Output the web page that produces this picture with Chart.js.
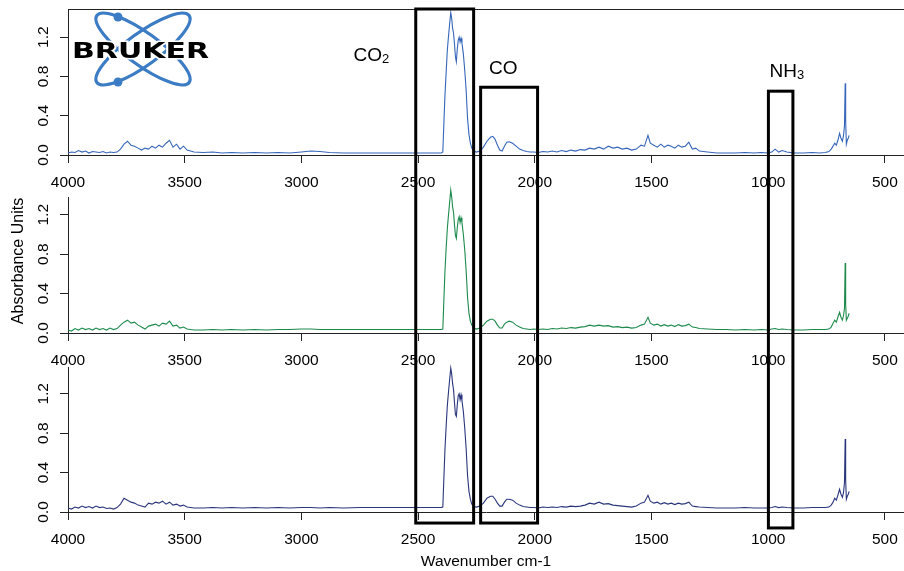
<!DOCTYPE html>
<html>
<head>
<meta charset="utf-8">
<title>FTIR spectra</title>
<script src="https://cdn.jsdelivr.net/npm/chart.js@4.4.0/dist/chart.umd.min.js"></script>
<style>
  html, body { margin: 0; padding: 0; background: #fff; }
  #wrap { position: relative; width: 904px; height: 571px; }
  #wrap canvas { position: absolute; left: 0; top: 0; }
</style>
</head>
<body>
<div id="wrap">
  <canvas id="panel1" width="904" height="571"></canvas>
  <canvas id="panel2" width="904" height="571"></canvas>
  <canvas id="panel3" width="904" height="571"></canvas>
</div>
<script>
// Wavenumber (cm-1), shared by the three spectra
const wavenumbers = [
  4000, 3985, 3970, 3955, 3940, 3925, 3910, 3895, 3880, 3865,
  3850, 3835, 3820, 3805, 3790, 3775, 3760, 3745, 3730, 3715,
  3700, 3685, 3670, 3655, 3640, 3625, 3610, 3595, 3580, 3565,
  3550, 3535, 3520, 3505, 3490, 3475, 3460,
  3420, 3380, 3340, 3300, 3250, 3200, 3150, 3100, 3050, 3000,
  2960, 2920, 2880, 2820, 2750, 2680, 2600, 2520, 2450, 2400,
  2394, 2390, 2385, 2380, 2375, 2370, 2365, 2360, 2356, 2352,
  2348, 2344, 2340, 2336, 2332, 2328, 2324, 2320, 2316, 2312,
  2306, 2300, 2294, 2288, 2282, 2276, 2270, 2262,
  2250, 2235, 2220, 2205, 2190, 2180, 2170, 2160, 2150, 2140,
  2130, 2120, 2110, 2095, 2080, 2065, 2050, 2035, 2020,
  2005, 1985, 1965, 1945, 1925, 1905, 1885, 1865, 1845, 1825,
  1805, 1785, 1765, 1745, 1725, 1705, 1685, 1665, 1645, 1625,
  1605, 1585, 1565, 1545, 1530, 1515, 1505, 1490, 1475, 1460,
  1445, 1430, 1415, 1400, 1385, 1370, 1355, 1340, 1325, 1310,
  1295,
  1260, 1220, 1180, 1140, 1100, 1060, 1030, 1000, 985, 970,
  955, 940, 920, 890, 850, 810, 780, 755, 740,
  730, 722, 715, 708, 700, 694, 688, 682, 677, 673,
  670, 668, 665, 661, 657, 653
];

// Absorbance, top spectrum (blue)
const absorbanceTop = [
  0.02, 0.03, 0.025, 0.045, 0.03, 0.04, 0.02, 0.035, 0.03, 0.025,
  0.035, 0.02, 0.03, 0.025, 0.03, 0.06, 0.11, 0.14, 0.1, 0.09,
  0.07, 0.05, 0.07, 0.06, 0.09, 0.07, 0.1, 0.08, 0.12, 0.15,
  0.08, 0.11, 0.06, 0.09, 0.05, 0.04, 0.03,
  0.025, 0.03, 0.02, 0.025, 0.02, 0.025, 0.02, 0.025, 0.02, 0.03,
  0.04, 0.035, 0.025, 0.02, 0.02, 0.02, 0.02, 0.02, 0.02, 0.02,
  0.03, 0.29, 0.6, 0.83, 1.06, 1.2, 1.33, 1.45, 1.39, 1.29,
  1.24, 1.13, 1.0, 0.95, 1.08, 1.17, 1.2, 1.15, 1.19, 1.14,
  1.03, 0.86, 0.66, 0.37, 0.21, 0.12, 0.07, 0.04,
  0.03, 0.04, 0.08, 0.14, 0.18, 0.19, 0.16, 0.1, 0.05, 0.04,
  0.09, 0.13, 0.135, 0.12, 0.09, 0.06, 0.045, 0.035, 0.03,
  0.03, 0.025, 0.035, 0.03, 0.04, 0.03, 0.045, 0.035, 0.05, 0.04,
  0.055, 0.05, 0.07, 0.06, 0.08, 0.06, 0.09, 0.07, 0.08, 0.06,
  0.07, 0.05, 0.06, 0.1, 0.09, 0.2, 0.12, 0.1, 0.08, 0.11,
  0.08, 0.1, 0.09, 0.07, 0.1, 0.08, 0.09, 0.13, 0.06, 0.07,
  0.04,
  0.03, 0.02, 0.02, 0.02, 0.025, 0.02, 0.025, 0.02, 0.03, 0.06,
  0.03, 0.045, 0.03, 0.02, 0.02, 0.025, 0.02, 0.025, 0.035,
  0.06, 0.09, 0.12, 0.1, 0.16, 0.22, 0.17, 0.14, 0.2, 0.3,
  0.73, 0.35, 0.11, 0.15, 0.17, 0.2
];

// Absorbance, middle spectrum (green)
const absorbanceMiddle = [
  0.03, 0.02, 0.045, 0.03, 0.05, 0.035, 0.045, 0.03, 0.05, 0.035,
  0.045, 0.03, 0.05, 0.035, 0.045, 0.08, 0.11, 0.13, 0.1, 0.11,
  0.08, 0.06, 0.04, 0.07, 0.08, 0.09, 0.07, 0.1, 0.09, 0.12,
  0.07, 0.08, 0.05, 0.06, 0.04, 0.035, 0.03,
  0.03, 0.035, 0.03, 0.035, 0.03, 0.035, 0.03, 0.035, 0.035, 0.04,
  0.04, 0.035, 0.035, 0.035, 0.035, 0.035, 0.035, 0.035, 0.035, 0.035,
  0.04, 0.3, 0.62, 0.85, 1.05, 1.19, 1.32, 1.45, 1.38, 1.28,
  1.22, 1.1, 0.99, 0.96, 1.07, 1.15, 1.18, 1.12, 1.17, 1.12,
  1.0, 0.84, 0.63, 0.36, 0.2, 0.12, 0.08, 0.05,
  0.04, 0.05, 0.08, 0.12, 0.14, 0.14, 0.12, 0.08, 0.05, 0.05,
  0.09, 0.11, 0.12, 0.11, 0.08, 0.06, 0.045, 0.04, 0.035,
  0.04, 0.035, 0.04, 0.035, 0.045, 0.04, 0.05, 0.045, 0.055, 0.05,
  0.06, 0.065, 0.08, 0.07, 0.08, 0.07, 0.075, 0.06, 0.065, 0.055,
  0.06, 0.05, 0.055, 0.08, 0.09, 0.16, 0.1, 0.08, 0.09, 0.07,
  0.085, 0.07, 0.08, 0.065, 0.085, 0.07, 0.075, 0.09, 0.06, 0.055,
  0.045,
  0.04, 0.035, 0.035, 0.03, 0.035, 0.03, 0.035, 0.03, 0.04, 0.045,
  0.035, 0.04, 0.035, 0.03, 0.03, 0.035, 0.035, 0.035, 0.04,
  0.06, 0.1, 0.13, 0.11, 0.17, 0.21, 0.16, 0.13, 0.18, 0.25,
  0.71, 0.3, 0.13, 0.15, 0.17, 0.2
];

// Absorbance, bottom spectrum (navy)
const absorbanceBottom = [
  0.04, 0.03, 0.05, 0.04, 0.06, 0.045, 0.055, 0.04, 0.06, 0.045,
  0.05, 0.035, 0.04, 0.03, 0.045, 0.08, 0.14, 0.12, 0.1, 0.09,
  0.07, 0.06, 0.05, 0.09, 0.08, 0.1, 0.09, 0.11, 0.08, 0.1,
  0.07, 0.08, 0.06, 0.07, 0.05, 0.045, 0.04,
  0.04, 0.045, 0.04, 0.045, 0.04, 0.045, 0.04, 0.045, 0.04, 0.045,
  0.045, 0.04, 0.045, 0.04, 0.045, 0.045, 0.045, 0.045, 0.045, 0.045,
  0.05, 0.31, 0.63, 0.86, 1.07, 1.21, 1.34, 1.46, 1.4, 1.3,
  1.24, 1.11, 0.99, 0.97, 1.09, 1.18, 1.2, 1.14, 1.19, 1.13,
  1.02, 0.85, 0.64, 0.37, 0.21, 0.13, 0.08, 0.055,
  0.05, 0.06, 0.09, 0.14, 0.16, 0.16, 0.13, 0.09, 0.06, 0.06,
  0.1, 0.13, 0.13, 0.12, 0.09, 0.07, 0.055, 0.05, 0.045,
  0.045, 0.04, 0.05, 0.045, 0.05, 0.045, 0.055, 0.05, 0.06, 0.055,
  0.06, 0.07, 0.09, 0.08, 0.1, 0.08, 0.085, 0.07, 0.065, 0.06,
  0.055, 0.05, 0.06, 0.09, 0.1, 0.17, 0.11, 0.09, 0.1, 0.08,
  0.095, 0.08, 0.09, 0.075, 0.09, 0.08, 0.085, 0.1, 0.06, 0.055,
  0.05,
  0.045, 0.04, 0.04, 0.04, 0.045, 0.04, 0.04, 0.04, 0.045, 0.055,
  0.045, 0.05, 0.045, 0.04, 0.04, 0.045, 0.045, 0.045, 0.05,
  0.07, 0.1, 0.14, 0.12, 0.18, 0.23, 0.18, 0.15, 0.2, 0.3,
  0.74, 0.33, 0.13, 0.16, 0.18, 0.21
];

const xTicks = [4000, 3500, 3000, 2500, 2000, 1500, 1000, 500];
const yTicks = [0, 0.4, 0.8, 1.2];

// Marked absorption bands (wavenumber ranges)
const bandNames = ['CO', 'CO', 'NH'];
const bandSubscripts = ['2', '', '3'];
const bandFrom = [2510, 2232, 999];
const bandTo = [2262, 1988, 894];

const FONT = '"Liberation Sans", Arial, sans-serif';
Chart.defaults.font.family = FONT;
Chart.defaults.color = '#000';

const panels = [
  { id: 'panel1', values: absorbanceTop, color: '#3566b9', top: 9, bottom: 155, yMax: 1.487, axisHeight: 40 },
  { id: 'panel2', values: absorbanceMiddle, color: '#1d8a4c', top: 197, bottom: 333, yMax: 1.38, axisHeight: 40 },
  { id: 'panel3', values: absorbanceBottom, color: '#2a367c', top: 367, bottom: 512, yMax: 1.472, axisHeight: 59 }
];

const charts = [];

// boxes, band labels, logo and y title, drawn on the top-most canvas
const overlayPlugin = {
  id: 'overlay',
  afterDraw(chart) {
    const c1 = charts[0];
    const c3 = chart;
    const ctx = chart.ctx;
    const xs = c3.scales.x;

    // top frame line of the first panel
    ctx.save();
    ctx.strokeStyle = '#222';
    ctx.lineWidth = 1;
    ctx.beginPath();
    ctx.moveTo(c1.chartArea.left, Math.round(c1.chartArea.top) + 0.5);
    ctx.lineTo(c1.chartArea.right, Math.round(c1.chartArea.top) + 0.5);
    ctx.stroke();

    // band boxes
    const boxTop = [c1.scales.y.max, 0.69, 0.65];
    const boxBottom = [-0.112, -0.112, -0.162];
    ctx.strokeStyle = '#000';
    ctx.lineWidth = 3;
    bandFrom.forEach((from, i) => {
      const x1 = xs.getPixelForValue(from);
      const x2 = xs.getPixelForValue(bandTo[i]);
      const y1 = c1.scales.y.getPixelForValue(boxTop[i]);
      const y2 = c3.scales.y.getPixelForValue(boxBottom[i]);
      ctx.strokeRect(x1, y1, x2 - x1, y2 - y1);
    });

    // band labels
    const labelAt = [2700, 2135, 920];
    const labelBase = [0.96, 0.83, 0.79];
    ctx.fillStyle = '#000';
    ctx.textBaseline = 'alphabetic';
    ctx.textAlign = 'left';
    bandNames.forEach((name, i) => {
      const big = '19px ' + FONT;
      const small = '13px ' + FONT;
      ctx.font = big;
      const w1 = ctx.measureText(name).width;
      ctx.font = small;
      const w2 = ctx.measureText(bandSubscripts[i]).width;
      const cx = xs.getPixelForValue(labelAt[i]);
      const by = c1.scales.y.getPixelForValue(labelBase[i]);
      const x0 = cx - (w1 + w2) / 2;
      ctx.font = big;
      ctx.fillText(name, x0, by);
      ctx.font = small;
      ctx.fillText(bandSubscripts[i], x0 + w1, by + 2);
    });

    // y axis title
    ctx.save();
    ctx.translate(18.5, 261);
    ctx.rotate(-Math.PI / 2);
    ctx.font = '16px ' + FONT;
    ctx.textAlign = 'center';
    ctx.textBaseline = 'middle';
    ctx.fillText('Absorbance Units', 0, 0);
    ctx.restore();

    // logo
    const lx = 143, ly = 49;
    ctx.strokeStyle = '#3b7cc4';
    ctx.fillStyle = '#3b7cc4';
    ctx.lineWidth = 3.2;
    [36, -36].forEach(a => {
      ctx.beginPath();
      ctx.ellipse(lx, ly, 57, 16, a * Math.PI / 180, 0, Math.PI * 2);
      ctx.stroke();
    });
    [[lx - 25, ly - 32], [lx - 25, ly + 33]].forEach(([px, py]) => {
      ctx.beginPath();
      ctx.arc(px, py, 4.5, 0, Math.PI * 2);
      ctx.fill();
    });
    ctx.save();
    ctx.font = 'bold 21px "DejaVu Sans", sans-serif';
    const tw = ctx.measureText('BRUKER').width;
    ctx.translate(140.5, 57.5);
    ctx.scale(137 / tw, 1);
    ctx.textAlign = 'center';
    ctx.lineWidth = 3;
    ctx.strokeStyle = '#fff';
    ctx.strokeText('BRUKER', 0, 0);
    ctx.fillStyle = '#000';
    ctx.fillText('BRUKER', 0, 0);
    ctx.restore();

    ctx.restore();
  }
};

panels.forEach((p, i) => {
  const last = i === panels.length - 1;
  const chart = new Chart(document.getElementById(p.id), {
    type: 'line',
    data: {
      datasets: [{
        data: wavenumbers.map((w, k) => ({ x: w, y: p.values[k] })),
        borderColor: p.color,
        borderWidth: 1.1,
        pointRadius: 0,
        tension: 0,
        fill: false,
        clip: false
      }]
    },
    options: {
      responsive: false,
      devicePixelRatio: 1,
      animation: false,
      events: [],
      layout: { padding: { left: 0, right: 0, top: p.top, bottom: 571 - p.bottom - p.axisHeight } },
      plugins: { legend: { display: false }, tooltip: { enabled: false } },
      scales: {
        x: {
          type: 'linear',
          reverse: true,
          min: 418,
          max: 4000,
          bounds: 'data',
          afterBuildTicks: s => { s.ticks = xTicks.map(v => ({ value: v })); },
          afterFit: s => { s.height = p.axisHeight; s.paddingLeft = 0; s.paddingRight = 0; },
          grid: { drawOnChartArea: false, tickLength: 8, color: '#222' },
          border: { color: '#222' },
          ticks: {
            padding: 10,
            autoSkip: false,
            maxRotation: 0,
            callback: v => String(v),
            font: { size: 15.5 }
          },
          title: {
            display: last,
            text: 'Wavenumber cm-1',
            padding: { top: 0, bottom: 0 },
            font: { size: 15.5 }
          }
        },
        y: {
          min: 0,
          max: p.yMax,
          bounds: 'data',
          afterBuildTicks: s => { s.ticks = yTicks.map(v => ({ value: v })); },
          afterFit: s => { s.width = 68; s.paddingTop = 0; s.paddingBottom = 0; },
          grid: { drawOnChartArea: false, tickLength: 8, color: '#222' },
          border: { color: '#222' },
          ticks: {
            minRotation: 90,
            maxRotation: 90,
            crossAlign: 'center',
            padding: 6,
            callback: v => v.toFixed(1),
            font: { size: 15.5 }
          }
        }
      }
    },
    plugins: last ? [overlayPlugin] : []
  });
  charts.push(chart);
});
</script>
</body>
</html>
